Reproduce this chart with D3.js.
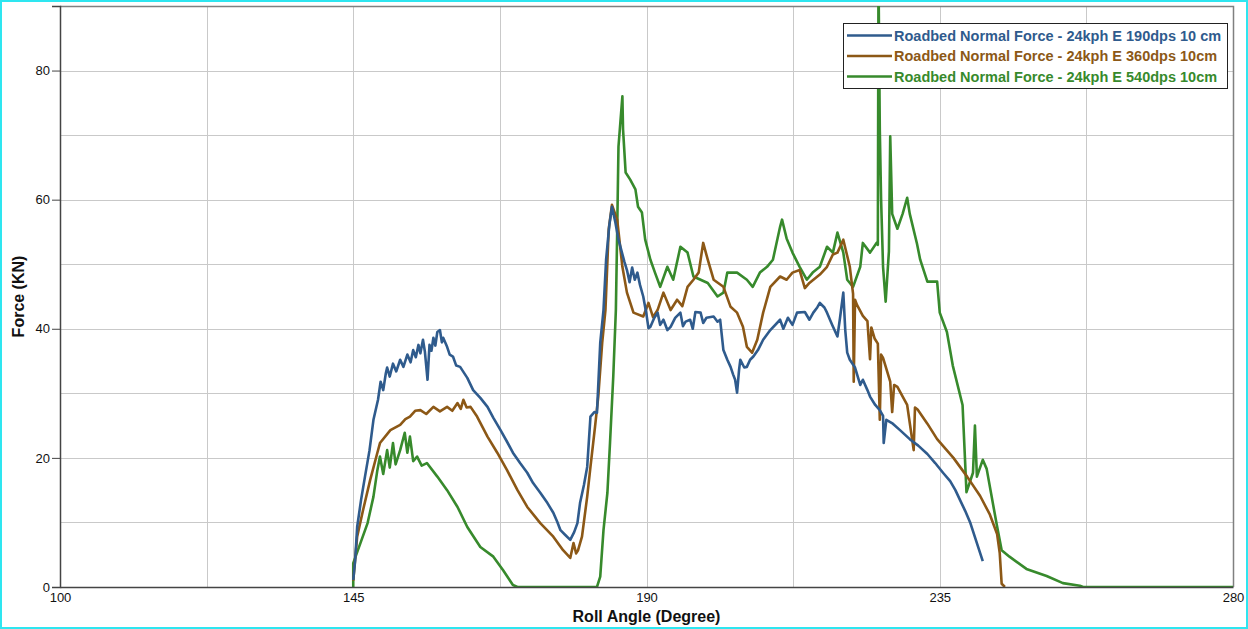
<!DOCTYPE html>
<html>
<head>
<meta charset="utf-8">
<script src="https://cdn.jsdelivr.net/npm/d3@7"></script>
<style>
  body { margin: 0; background: #fff; }
  svg { display: block; font-family: "Liberation Sans", Arial, sans-serif; }
</style>
</head>
<body>
<svg id="chart" width="1248" height="629"></svg>
<script>
// roll angle (deg), normal force (kN)
var series190 = [
  [145.0,1.1],[145.3,4.2],[145.6,9.3],[146.2,13.5],[146.8,17.1],[147.5,21.2],[148.1,25.9],[148.8,29.0],
  [149.2,31.8],[149.6,30.5],[150.0,33.1],[150.2,34.0],[150.6,32.6],[151.1,34.6],[151.6,33.4],[152.2,35.2],
  [152.7,34.1],[153.3,36.0],[153.8,34.8],[154.2,36.7],[154.6,35.6],[155.0,37.5],[155.3,36.2],[155.7,38.3],
  [156.0,36.4],[156.4,32.1],[156.7,37.5],[157.0,36.6],[157.3,38.6],[157.6,37.4],[157.9,39.5],[158.3,39.8],
  [158.6,37.9],[158.8,38.6],[159.4,37.2],[159.8,36.0],[160.3,35.7],[160.8,34.3],[161.4,34.1],[162.5,32.4],
  [163.4,30.5],[164.5,29.3],[165.6,27.9],[166.5,26.2],[167.6,24.3],[168.6,22.5],[169.5,20.8],[170.6,19.2],
  [171.7,17.7],[172.6,16.1],[173.7,14.6],[174.8,13.0],[175.7,11.5],[176.3,10.1],[176.8,8.8],[177.5,8.1],
  [178.3,7.3],[178.9,8.5],[179.4,9.9],[179.8,13.0],[180.4,15.8],[180.9,18.6],[181.4,26.4],[182.0,27.1],
  [182.4,27.0],[182.9,37.8],[183.4,42.9],[183.8,50.7],[184.3,56.1],[184.7,58.9],[185.2,56.6],[185.7,53.8],
  [186.0,52.7],[186.6,50.4],[187.0,49.1],[187.4,47.2],[187.8,49.5],[188.2,47.6],[188.6,48.7],[189.0,46.8],
  [189.5,45.0],[190.0,42.2],[190.3,40.1],[190.6,40.3],[191.2,41.7],[191.7,42.5],[192.1,40.6],[192.6,41.4],
  [193.2,39.8],[193.7,40.3],[194.4,41.7],[195.2,42.5],[195.6,40.4],[196.0,41.1],[196.7,41.4],[197.1,40.0],
  [197.5,42.6],[198.3,42.5],[198.7,40.9],[199.2,41.7],[200.3,41.9],[200.9,41.1],[201.3,41.4],[201.8,36.7],
  [202.4,35.2],[202.9,34.1],[203.3,32.9],[203.6,32.1],[203.9,30.1],[204.2,33.6],[204.4,35.2],[205.0,34.0],
  [205.4,34.1],[205.9,35.2],[206.4,35.7],[207.1,36.7],[207.9,38.3],[209.0,39.8],[210.5,41.4],[211.0,40.0],
  [211.7,41.7],[212.4,40.6],[213.1,42.5],[214.3,42.6],[215.0,41.4],[215.6,42.5],[216.2,43.3],[216.6,44.0],
  [217.3,43.3],[217.7,42.5],[218.5,40.6],[219.3,38.8],[219.7,41.7],[220.2,45.6],[220.5,39.8],[220.8,36.3],
  [221.2,35.2],[222.0,34.0],[222.8,31.3],[223.2,32.1],[223.9,30.5],[224.3,29.5],[225.1,28.2],[225.8,27.4],
  [226.3,26.5],[226.4,22.3],[226.8,25.9],[227.8,25.3],[228.9,24.3],[230.4,22.9],[231.7,21.9],[233.1,20.6],
  [234.3,19.2],[235.5,17.7],[236.6,16.4],[237.4,15.0],[238.1,13.5],[238.9,11.8],[239.7,9.9],[240.6,7.1],
  [241.6,4.0]
];
var series360 = [
  [145.0,1.0],[145.6,7.8],[146.5,11.9],[147.6,16.6],[148.7,20.8],[149.1,22.3],[150.7,24.3],[152.2,25.1],
  [153.0,26.0],[153.7,26.4],[154.5,27.3],[155.3,27.4],[156.2,26.8],[157.3,27.9],[158.3,27.2],[159.4,27.9],
  [160.2,27.3],[161.0,28.5],[161.5,27.6],[161.9,29.0],[162.4,27.8],[163.0,27.9],[164.0,26.4],[165.6,23.3],
  [167.1,20.8],[168.6,18.1],[170.2,15.0],[171.7,12.4],[173.7,9.9],[175.7,7.8],[177.2,5.7],[178.3,4.5],
  [178.8,6.8],[179.2,5.2],[179.5,5.7],[180.1,7.8],[180.9,14.0],[181.4,18.6],[182.1,24.8],[182.6,29.5],
  [183.2,37.8],[183.7,42.9],[184.2,55.4],[184.7,59.2],[185.5,56.9],[186.3,49.6],[187.0,45.6],[188.0,42.5],
  [189.5,41.9],[190.3,44.0],[191.0,41.8],[191.7,42.9],[192.6,45.6],[193.7,42.9],[194.7,44.5],[195.5,43.5],
  [196.3,46.5],[197.2,47.6],[198.0,48.7],[198.7,53.3],[199.4,50.7],[200.3,47.6],[201.8,46.5],[202.9,43.4],
  [203.9,42.5],[204.8,40.3],[205.4,37.2],[206.2,36.3],[207.0,38.3],[207.9,42.5],[209.0,46.5],[210.5,48.1],
  [211.5,47.6],[212.4,48.7],[213.5,49.1],[214.3,46.3],[215.0,47.1],[216.6,48.4],[217.7,49.6],[218.6,51.5],
  [219.3,51.8],[220.2,53.8],[221.2,49.6],[221.7,45.4],[221.8,31.8],[222.0,44.5],[222.3,43.7],[223.2,42.0],
  [223.9,41.2],[224.3,35.3],[224.5,40.2],[225.0,38.5],[225.5,37.7],[225.8,25.9],[226.0,36.0],[226.3,35.5],
  [227.4,31.8],[227.7,27.1],[228.0,31.3],[228.5,31.0],[230.0,28.2],[231.0,21.2],[231.2,27.8],[231.6,27.5],
  [233.1,25.3],[234.6,22.9],[237.1,20.0],[239.2,17.1],[241.2,14.1],[242.7,11.2],[243.8,8.2],[244.2,5.3],
  [244.5,0.5],[245.0,0]
];
var series540 = [
  [145.0,0],[145.0,3.7],[146.1,6.8],[147.2,9.9],[148.1,14.0],[148.7,18.1],[149.1,20.2],[149.6,17.5],
  [150.2,21.2],[150.6,18.5],[151.1,22.3],[151.5,19.0],[152.2,21.2],[152.9,23.9],[153.3,20.8],[153.7,23.3],
  [154.2,19.5],[154.8,20.2],[155.5,18.8],[156.3,19.2],[157.9,17.1],[159.4,15.0],[161.0,12.4],[162.5,9.3],
  [164.5,6.2],[166.5,4.7],[168.0,2.6],[169.5,0.3],[170.2,0],[182.4,0],[182.9,1.6],[183.4,8.8],
  [184.0,14.6],[184.4,22.3],[184.9,32.6],[185.3,42.9],[185.5,55.0],[185.7,68.2],[186.3,76.0],[186.4,70.9],
  [186.8,64.2],[187.5,63.1],[188.3,61.6],[188.7,58.9],[189.3,58.0],[189.8,53.8],[190.6,50.7],[191.3,48.7],
  [192.1,46.5],[193.2,49.6],[194.1,47.6],[195.2,52.7],[196.3,51.8],[197.2,48.1],[198.3,47.6],[199.4,47.1],
  [200.9,45.0],[201.8,45.6],[202.4,48.7],[203.9,48.7],[205.4,47.6],[206.3,46.5],[207.4,48.7],[208.5,49.6],
  [209.4,50.7],[210.5,55.8],[210.8,56.9],[211.5,54.0],[212.4,51.8],[213.5,49.6],[214.6,47.6],[215.5,48.7],
  [216.6,49.6],[217.7,52.7],[218.6,51.8],[219.3,54.9],[220.2,51.8],[220.8,47.6],[221.7,46.5],[222.8,49.6],
  [223.2,53.3],[224.3,51.8],[225.3,53.3],[225.5,53.0],[225.6,95],[225.8,70.9],[226.0,60.0],[226.3,49.6],
  [226.7,44.2],[227.2,52.0],[227.4,69.8],[227.7,57.8],[228.5,55.5],[229.3,57.8],[230.0,60.3],[230.4,57.8],
  [231.5,53.2],[232.0,50.7],[233.1,47.3],[234.6,47.3],[235.0,42.5],[236.1,39.5],[237.0,34.3],[238.5,28.2],
  [239.1,14.7],[240.1,17.7],[240.4,25.0],[240.7,17.1],[241.6,19.7],[242.2,18.3],[243.7,9.9],[244.5,5.7],
  [245.7,4.7],[248.3,2.8],[251.4,1.7],[253.9,0.6],[256.5,0.2],[257.0,0],[280.0,0]
];
var seriesNames = [
  "Roadbed Normal Force - 24kph E 190dps 10 cm",
  "Roadbed Normal Force - 24kph E 360dps 10cm",
  "Roadbed Normal Force - 24kph E 540dps 10cm"
];
var seriesColors = ["#2f5b8d", "#8c5816", "#378a2c"];
var xTicks = [100, 145, 190, 235, 280];
var xGrid = [122.5, 145, 167.5, 190, 212.5, 235, 257.5];
var yTicks = [0, 20, 40, 60, 80];
var yGrid = [10, 20, 30, 40, 50, 60, 70, 80];

var svg = d3.select("#chart");
var W = 1248, H = 629;
var margin = {top: 6, right: 15, bottom: 42, left: 60};

var x = d3.scaleLinear().domain([100, 280]).range([margin.left, W - margin.right]);
var y = d3.scaleLinear().domain([0, 90]).range([H - margin.bottom, margin.top]);

// outer cyan frame
svg.append("rect")
    .attr("x", 1).attr("y", 1)
    .attr("width", W - 2).attr("height", H - 2)
    .attr("fill", "#fff")
    .attr("stroke", "#2ee6f0")
    .attr("stroke-width", 2);

svg.append("defs").append("clipPath").attr("id", "plotclip")
    .append("rect")
    .attr("x", x(100)).attr("y", y(90))
    .attr("width", x(280) - x(100)).attr("height", y(0) - y(90));

// grid
var grid = svg.append("g").attr("stroke", "#c9c9c9").attr("stroke-width", 1);
grid.selectAll("line.v").data(xGrid).enter().append("line")
    .attr("x1", function (d) { return Math.round(x(d)) + 0.5; })
    .attr("x2", function (d) { return Math.round(x(d)) + 0.5; })
    .attr("y1", y(0)).attr("y2", y(90));
grid.selectAll("line.h").data(yGrid).enter().append("line")
    .attr("y1", function (d) { return Math.round(y(d)) + 0.5; })
    .attr("y2", function (d) { return Math.round(y(d)) + 0.5; })
    .attr("x1", x(100)).attr("x2", x(280));

// plot frame (top/right)
svg.append("path")
    .attr("d", "M" + x(100) + "," + (y(90) + 0.5) + "H" + (x(280) + 0.5) + "V" + y(0))
    .attr("fill", "none").attr("stroke", "#808080").attr("stroke-width", 1.5);

// series
var line = d3.line()
    .x(function (d) { return x(d[0]); })
    .y(function (d) { return y(d[1]); });

var allSeries = [series540, series360, series190];
var allColors = [seriesColors[2], seriesColors[1], seriesColors[0]];
svg.append("g").attr("clip-path", "url(#plotclip)")
    .selectAll("path").data(allSeries).enter().append("path")
    .attr("d", line)
    .attr("fill", "none")
    .attr("stroke", function (d, i) { return allColors[i]; })
    .attr("stroke-width", 2.6)
    .attr("stroke-linejoin", "round");

// axes
var xAxis = svg.append("g")
    .attr("transform", "translate(0," + y(0) + ")")
    .call(d3.axisBottom(x).tickValues(xTicks).tickSize(0).tickPadding(6).tickFormat(d3.format("d")));
var yAxis = svg.append("g")
    .attr("transform", "translate(" + x(100) + ",0)")
    .call(d3.axisLeft(y).tickValues(yTicks).tickSize(8).tickPadding(2).tickFormat(d3.format("d")));
[xAxis, yAxis].forEach(function (a) {
    a.select(".domain").attr("stroke", "#444").attr("stroke-width", 1.5);
    a.selectAll(".tick line").attr("stroke", "#444");
    a.selectAll("text").attr("font-family", "Liberation Sans, Arial, sans-serif")
        .attr("font-size", 13).attr("fill", "#111");
});
yAxis.selectAll(".tick text").attr("dy", "0.32em");

// axis titles
svg.append("text")
    .attr("x", (x(100) + x(280)) / 2).attr("y", 622)
    .attr("text-anchor", "middle")
    .attr("font-size", 16).attr("font-weight", "bold").attr("fill", "#111")
    .text("Roll Angle (Degree)");
svg.append("text")
    .attr("transform", "translate(24," + ((y(0) + y(90)) / 2) + ") rotate(-90)")
    .attr("text-anchor", "middle")
    .attr("font-size", 16).attr("font-weight", "bold").attr("fill", "#111")
    .text("Force (KN)");

// legend
var legend = svg.append("g").attr("transform", "translate(843,23)");
legend.append("rect")
    .attr("x", 0.5).attr("y", 0.5).attr("width", 384).attr("height", 65)
    .attr("fill", "#fff").attr("stroke", "#222").attr("stroke-width", 1);
var rows = legend.selectAll("g.row").data(seriesNames).enter().append("g")
    .attr("transform", function (d, i) { return "translate(0," + (12.5 + i * 20.5) + ")"; });
rows.append("line")
    .attr("x1", 4).attr("x2", 49).attr("y1", 0).attr("y2", 0)
    .attr("stroke", function (d, i) { return seriesColors[i]; })
    .attr("stroke-width", 2.4);
rows.append("text")
    .attr("x", 51).attr("y", 0).attr("dy", "0.35em")
    .attr("font-size", 14.5).attr("font-weight", "bold")
    .attr("fill", function (d, i) { return seriesColors[i]; })
    .text(function (d) { return d; });
</script>
</body>
</html>
